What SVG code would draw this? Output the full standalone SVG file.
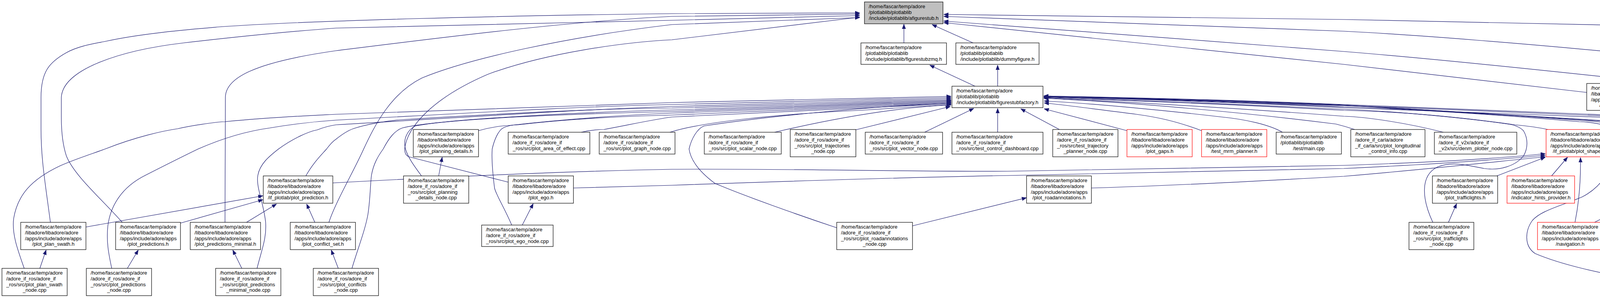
<svg xmlns="http://www.w3.org/2000/svg" width="5158" height="764" viewBox="0 0 5158 764">
<style>
.n rect{fill:#fff;stroke:#000;stroke-width:1.2}
.n.root rect{fill:#bfbfbf}
.n.red rect{stroke:#ff0000}
.n text{font-family:"Liberation Sans",Arial,sans-serif;font-size:13px;fill:#000}
.n text.c{text-anchor:middle}
.e path{fill:none;stroke:#191970;stroke-width:1.2;marker-end:url(#a)}
</style>
<defs>
<marker id="a" markerUnits="userSpaceOnUse" markerWidth="12" markerHeight="10" viewBox="0 0 12 10" refX="12" refY="5" orient="auto">
<path d="M0,0.5 L12,5 L0,9.5 z" fill="#191970" stroke="#191970" stroke-width="0.8"/>
</marker>
</defs>
<rect width="5158" height="764" fill="#fff"/>
<g id="edges" class="e">
<path d="M2314,110 L2314,62"/>
<path d="M2491,110 L2386,63"/>
<path d="M129,570 C116,470 105,410 105,330 L105,250 C105,185 125,160 170,135 C200,118 240,112 270,106 C360,86 480,76 560,69 C800,52 1300,40 1720,35 L2201,33"/>
<path d="M313,570 C260,510 190,450 170,400 C160,370 157,330 157,300 L157,250 C160,180 300,130 470,110 C600,95 750,80 860,72 C1200,62 1500,56 1720,52 L2201,40"/>
<path d="M576,570 L577,250 C577,200 650,160 860,130 C1100,100 1450,55 1720,42 L2201,36"/>
<path d="M842,570 C858,520 905,440 931,382 C960,320 1000,240 1080,200 C1200,150 1450,95 1720,63 L2201,45"/>
<path d="M1301,467 L1047,402 C1036,398 1034,385 1038,370 C1050,320 1110,250 1250,190 C1400,135 1600,108 1720,102 L2201,44"/>
<path d="M5032,451 C5040,420 5046,400 5046,382 C5048,300 5046,200 5030,160 C5015,130 5000,112 4985,107 C4900,90 4600,75 4300,68 C4000,60 3700,55 3440,50 L2416,37"/>
<path d="M4838,570 C4880,490 4950,430 4952,370 C4955,300 4900,260 4821,240 C4750,220 4650,200 4300,150 C3900,110 3600,88 3440,80 L2416,42"/>
<path d="M4503,238 C4400,226 4350,222 4300,218 C4000,185 3700,153 3440,132 C3100,105 2700,76 2416,54"/>
<path d="M4062,237 C3800,206 3600,183 3440,165 L2416,58"/>
<path d="M2496,221 L2380,167"/>
<path d="M2554,221 L2554,167"/>
<path d="M62,688 C45,640 30,600 35,560 C45,500 80,460 154,425 C200,405 240,393 269,382 C350,350 420,335 455,330 C500,320 560,312 576,312 C700,300 800,296 860,293 C1200,280 1500,268 1720,263 L2435,247"/>
<path d="M286,688 C278,650 272,620 276,580 C282,530 310,480 373,449 C420,425 470,400 507,382 C580,350 640,335 691,328 C750,318 800,312 860,308 C1200,290 1500,272 1720,268 L2435,250"/>
<path d="M658,688 C670,640 683,610 680,570 C675,520 655,480 660,450 C665,420 690,400 713,382 C750,355 790,337 812,333 C830,326 845,322 860,320 C1200,300 1500,280 1720,273 L2435,253"/>
<path d="M783,451 C800,420 820,400 836,382 C845,370 852,362 860,357 C875,345 890,335 904,330 C940,318 990,310 1025,307 C1300,290 1550,278 1720,277 L2435,256"/>
<path d="M901,688 C915,640 935,590 942,549 C948,510 948,470 951,449 C956,420 968,400 981,382 C995,355 1010,335 1030,328 C1100,310 1400,290 1720,282 L2435,258"/>
<path d="M1079,451 C1060,425 1045,405 1038,382 C1032,360 1040,335 1063,323 C1150,305 1450,292 1720,286 L2435,260"/>
<path d="M1225,335 C1260,325 1290,322 1300,322 C1450,305 1600,295 1720,290 L2435,262"/>
<path d="M1310,577 C1290,530 1270,500 1266,482 C1262,450 1258,410 1260,382 C1265,360 1275,335 1288,328 C1300,322 1315,320 1326,320 C1450,305 1600,298 1720,295 L2435,264"/>
<path d="M1488,339 C1510,334 1530,332 1546,332 C1620,318 1680,305 1720,300 L2435,266"/>
<path d="M1715,339 C1800,312 2000,292 2200,283 L2435,268"/>
<path d="M2142,584 C2040,550 1900,500 1830,470 C1790,440 1768,410 1764,382 C1770,355 1785,330 1802,323 C1950,300 2200,275 2435,264"/>
<path d="M1983,339 C2150,300 2300,275 2435,269"/>
<path d="M2367,339 L2493,278"/>
<path d="M2190,333 L2433,273"/>
<path d="M2554,339 L2554,278"/>
<path d="M2712,332 L2613,279"/>
<path d="M2885,335 L2673,279"/>
<path d="M3076,335 C3010,310 2960,300 2909,293 C2820,282 2720,268 2673,264"/>
<path d="M3283,339 C3250,320 3190,306 3128,300 C3000,285 2800,265 2673,259"/>
<path d="M3468,332 C3450,326 3440,323 3420,318 C3200,290 2900,262 2672,252"/>
<path d="M3695,339 C3600,315 3500,300 3440,298 C3200,280 2900,262 2672,251"/>
<path d="M3963,332 C3930,325 3900,322 3879,320 C3700,295 3550,285 3440,283 C3200,270 2900,258 2672,250"/>
<path d="M3668,570 C3640,510 3635,450 3680,428 C3720,412 3760,425 3800,432 C3840,438 3880,425 3900,400 C3912,380 3912,355 3900,335 C3890,325 3875,320 3860,318 C3700,295 3500,282 3440,280 C3200,268 2900,256 2672,249"/>
<path d="M4162,712 C4100,700 4000,680 3930,650 C3900,630 3905,590 3923,565 C3945,540 3990,530 4050,505 C4100,480 4130,430 4142,382 C4148,360 4148,345 4130,330 C4110,318 4070,313 4043,312 C3800,290 3500,275 3440,274 C3200,262 2900,254 2672,248"/>
<path d="M4238,451 C4235,420 4225,400 4219,382 C4210,360 4195,338 4178,330 C4150,318 4100,312 4050,309 C3800,290 3500,272 3440,271 C3200,262 2900,253 2672,247"/>
<path d="M4925,577 L4300,409 C4285,400 4272,392 4268,382 C4260,360 4245,335 4230,330 C4200,318 4150,312 4100,310 C3800,290 3500,272 3440,270 C3200,260 2900,252 2672,247"/>
<path d="M4303,352 C4295,343 4285,333 4270,328 C4220,316 4150,311 4100,309 C3800,290 3500,271 3440,269 C3200,259 2900,251 2672,246"/>
<path d="M5051,696 C5120,630 5160,580 5155,520 C5150,470 5120,420 5068,409 C4950,395 4750,425 4684,422 C4600,420 4540,410 4530,400 C4520,392 4516,388 4514,382 C4505,355 4490,335 4475,330 C4420,310 4350,304 4300,302 C3900,285 3500,270 3440,268 C3200,258 2900,250 2672,246"/>
<path d="M4546,336 C4500,320 4400,308 4300,305 C3900,290 3500,272 3440,270 C3200,260 2900,252 2672,247"/>
<path d="M4777,339 C4770,335 4760,332 4750,330 C4600,315 4450,310 4300,308 C3900,292 3500,277 3440,276 C3200,264 2900,254 2672,248"/>
<path d="M4546,337 L4231,265"/>
<path d="M4777,339 L4666,286"/>
<path d="M852,469 C1200,450 1500,438 1720,434 C2000,432 2300,440 2580,439 C2900,436 3200,430 3440,424 C3700,415 3850,405 3956,394"/>
<path d="M1468,482 C1600,478 1680,476 1720,475 C2000,465 2300,455 2580,450 C2900,445 3200,438 3440,432 C3700,420 3850,408 3956,398"/>
<path d="M2794,482 C3000,476 3300,460 3440,452 C3700,430 3850,412 3956,402"/>
<path d="M2336,579 L2628,507"/>
<path d="M3832,451 L3956,403"/>
<path d="M3972,451 L4013,403"/>
<path d="M4032,570 C4042,520 4047,470 4046,404"/>
<path d="M4183,451 L4104,403"/>
<path d="M4717,569 C4600,565 4500,560 4464,555 C4420,545 4400,530 4393,515 C4380,490 4370,470 4355,455 C4340,440 4320,432 4300,429 C4260,420 4230,405 4208,395 C4180,385 4150,380 4128,378"/>
<path d="M3708,570 L3729,522"/>
<path d="M4082,570 L4176,522"/>
<path d="M4219,570 L4230,522"/>
<path d="M4355,570 L4294,524"/>
<path d="M4508,572 L4328,519"/>
<path d="M4718,571 C4650,550 4550,540 4465,539 C4400,535 4360,525 4330,518"/>
<path d="M4934,696 L4854,642"/>
<path d="M4336,692 L4497,641"/>
<path d="M4937,475 L4476,399"/>
<path d="M4741,570 L4454,405"/>
<path d="M5013,577 L5016,523"/>
<path d="M220,582 L673,502"/>
<path d="M462,572 L673,512"/>
<path d="M631,570 L708,523"/>
<path d="M806,570 L785,523"/>
<path d="M866,688 L848,641"/>
<path d="M102,688 L118,641"/>
<path d="M326,688 L354,641"/>
<path d="M619,688 L596,641"/>
<path d="M1123,451 L1132,403"/>
<path d="M1337,577 L1365,522"/>
</g>
<g id="n0" class="n root"><rect x="2213" y="5" width="201" height="56"/><text x="2224" y="21.3">/home/fascar/temp/adore</text><text x="2224" y="36">/plotlablib/plotlablib</text><text class="c" x="2313.5" y="50.7">/include/plotlablib/afigurestub.h</text></g>
<g id="n1" class="n"><rect x="2204" y="110" width="219" height="55"/><text x="2215" y="126.3">/home/fascar/temp/adore</text><text x="2215" y="141">/plotlablib/plotlablib</text><text class="c" x="2313.5" y="155.7">/include/plotlablib/figurestubzmq.h</text></g>
<g id="n2" class="n"><rect x="2447" y="110" width="213" height="55"/><text x="2458" y="126.3">/home/fascar/temp/adore</text><text x="2458" y="141">/plotlablib/plotlablib</text><text class="c" x="2553.5" y="155.7">/include/plotlablib/dummyfigure.h</text></g>
<g id="n3" class="n"><rect x="2437" y="221" width="233" height="55"/><text x="2448" y="237.3">/home/fascar/temp/adore</text><text x="2448" y="252">/plotlablib/plotlablib</text><text class="c" x="2553.5" y="266.7">/include/plotlablib/figurestubfactory.h</text></g>
<g id="n4" class="n"><rect x="1058" y="332" width="167" height="70"/><text x="1069" y="348.3">/home/fascar/temp/adore</text><text x="1069" y="363">/libadore/libadore/adore</text><text x="1069" y="377.7">/apps/include/adore/apps</text><text class="c" x="1141.5" y="392.4">/plot_planning_details.h</text></g>
<g id="n5" class="n"><rect x="1301" y="339" width="209" height="56"/><text x="1312" y="355.3">/home/fascar/temp/adore</text><text x="1312" y="370">/adore_if_ros/adore_if</text><text class="c" x="1405.5" y="384.7">_ros/src/plot_area_of_effect.cpp</text></g>
<g id="n6" class="n"><rect x="1534" y="339" width="194" height="56"/><text x="1545" y="355.3">/home/fascar/temp/adore</text><text x="1545" y="370">/adore_if_ros/adore_if</text><text class="c" x="1631" y="384.7">_ros/src/plot_graph_node.cpp</text></g>
<g id="n7" class="n"><rect x="1803" y="339" width="197" height="56"/><text x="1814" y="355.3">/home/fascar/temp/adore</text><text x="1814" y="370">/adore_if_ros/adore_if</text><text class="c" x="1901.5" y="384.7">_ros/src/plot_scalar_node.cpp</text></g>
<g id="n8" class="n"><rect x="2023" y="332" width="168" height="70"/><text x="2034" y="348.3">/home/fascar/temp/adore</text><text x="2034" y="363">/adore_if_ros/adore_if</text><text x="2034" y="377.7">_ros/src/plot_trajectories</text><text class="c" x="2107" y="392.4">_node.cpp</text></g>
<g id="n9" class="n"><rect x="2215" y="339" width="198" height="56"/><text x="2226" y="355.3">/home/fascar/temp/adore</text><text x="2226" y="370">/adore_if_ros/adore_if</text><text class="c" x="2314" y="384.7">_ros/src/plot_vector_node.cpp</text></g>
<g id="n10" class="n"><rect x="2437" y="339" width="233" height="56"/><text x="2448" y="355.3">/home/fascar/temp/adore</text><text x="2448" y="370">/adore_if_ros/adore_if</text><text class="c" x="2553.5" y="384.7">_ros/src/test_control_dashboard.cpp</text></g>
<g id="n11" class="n"><rect x="2695" y="332" width="167" height="70"/><text x="2706" y="348.3">/home/fascar/temp/adore</text><text x="2706" y="363">/adore_if_ros/adore_if</text><text x="2706" y="377.7">_ros/src/test_trajectory</text><text class="c" x="2778.5" y="392.4">_planner_node.cpp</text></g>
<g id="n12" class="n red"><rect x="2885" y="332" width="167" height="70"/><text x="2896" y="348.3">/home/fascar/temp/adore</text><text x="2896" y="363">/libadore/libadore/adore</text><text x="2896" y="377.7">/apps/include/adore/apps</text><text class="c" x="2968.5" y="392.4">/plot_gaps.h</text></g>
<g id="n13" class="n red"><rect x="3076" y="332" width="167" height="70"/><text x="3087" y="348.3">/home/fascar/temp/adore</text><text x="3087" y="363">/libadore/libadore/adore</text><text x="3087" y="377.7">/apps/include/adore/apps</text><text class="c" x="3159.5" y="392.4">/test_mrm_planner.h</text></g>
<g id="n14" class="n"><rect x="3267" y="339" width="167" height="56"/><text x="3278" y="355.3">/home/fascar/temp/adore</text><text x="3278" y="370">/plotlablib/plotlablib</text><text class="c" x="3350.5" y="384.7">/test/main.cpp</text></g>
<g id="n15" class="n"><rect x="3458" y="332" width="190" height="70"/><text x="3469" y="348.3">/home/fascar/temp/adore</text><text x="3469" y="363">/adore_if_carla/adore</text><text x="3469" y="377.7">_if_carla/src/plot_longitudinal</text><text class="c" x="3553" y="392.4">_control_info.cpp</text></g>
<g id="n16" class="n"><rect x="3672" y="339" width="211" height="56"/><text x="3683" y="355.3">/home/fascar/temp/adore</text><text x="3683" y="370">/adore_if_v2x/adore_if</text><text class="c" x="3777.5" y="384.7">_v2x/src/denm_plotter_node.cpp</text></g>
<g id="n17" class="n red"><rect x="3958" y="332" width="168" height="70"/><text x="3969" y="348.3">/home/fascar/temp/adore</text><text x="3969" y="363">/libadore/libadore/adore</text><text x="3969" y="377.7">/apps/include/adore/apps</text><text class="c" x="4042" y="392.4">/if_plotlab/plot_shape.h</text></g>
<g id="n18" class="n"><rect x="4062" y="214" width="167" height="69"/><text x="4073" y="230.3">/home/fascar/temp/adore</text><text x="4073" y="245">/libadore/libadore/adore</text><text x="4073" y="259.7">/apps/include/adore/apps</text><text class="c" x="4145.5" y="274.4">/plot_satimages.h</text></g>
<g id="n19" class="n"><rect x="4503" y="214" width="167" height="69"/><text x="4514" y="230.3">/home/fascar/temp/adore</text><text x="4514" y="245">/libadore/libadore/adore</text><text x="4514" y="259.7">/apps/include/adore/apps</text><text class="c" x="4586.5" y="274.4">/plot_traffic.h</text></g>
<g id="n20" class="n"><rect x="4303" y="332" width="167" height="70"/><text x="4314" y="348.3">/home/fascar/temp/adore</text><text x="4314" y="363">/libadore/libadore/adore</text><text x="4314" y="377.7">/apps/include/adore/apps</text><text class="c" x="4386.5" y="392.4">/if_plotlab/plot_views.h</text></g>
<g id="n21" class="n"><rect x="4546" y="332" width="167" height="70"/><text x="4557" y="348.3">/home/fascar/temp/adore</text><text x="4557" y="363">/adore_if_ros/adore_if</text><text x="4557" y="377.7">_ros/src/plot_satimages</text><text class="c" x="4629.5" y="392.4">_node.cpp</text></g>
<g id="n22" class="n"><rect x="4738" y="339" width="195" height="56"/><text x="4749" y="355.3">/home/fascar/temp/adore</text><text x="4749" y="370">/adore_if_ros/adore_if</text><text class="c" x="4835.5" y="384.7">_ros/src/plot_traffic_node.cpp</text></g>
<g id="n23" class="n"><rect x="674" y="451" width="178" height="70"/><text x="685" y="467.3">/home/fascar/temp/adore</text><text x="685" y="482">/libadore/libadore/adore</text><text x="685" y="496.7">/apps/include/adore/apps</text><text class="c" x="763" y="511.4">/if_plotlab/plot_prediction.h</text></g>
<g id="n24" class="n"><rect x="1033" y="451" width="167" height="70"/><text x="1044" y="467.3">/home/fascar/temp/adore</text><text x="1044" y="482">/adore_if_ros/adore_if</text><text x="1044" y="496.7">_ros/src/plot_planning</text><text class="c" x="1116.5" y="511.4">_details_node.cpp</text></g>
<g id="n25" class="n"><rect x="1301" y="451" width="167" height="70"/><text x="1312" y="467.3">/home/fascar/temp/adore</text><text x="1312" y="482">/libadore/libadore/adore</text><text x="1312" y="496.7">/apps/include/adore/apps</text><text class="c" x="1384.5" y="511.4">/plot_ego.h</text></g>
<g id="n26" class="n"><rect x="2628" y="451" width="166" height="70"/><text x="2639" y="467.3">/home/fascar/temp/adore</text><text x="2639" y="482">/libadore/libadore/adore</text><text x="2639" y="496.7">/apps/include/adore/apps</text><text class="c" x="2711" y="511.4">/plot_roadannotations.h</text></g>
<g id="n27" class="n"><rect x="3667" y="451" width="167" height="70"/><text x="3678" y="467.3">/home/fascar/temp/adore</text><text x="3678" y="482">/libadore/libadore/adore</text><text x="3678" y="496.7">/apps/include/adore/apps</text><text class="c" x="3750.5" y="511.4">/plot_trafficlights.h</text></g>
<g id="n28" class="n red"><rect x="3858" y="451" width="173" height="70"/><text x="3869" y="467.3">/home/fascar/temp/adore</text><text x="3869" y="482">/libadore/libadore/adore</text><text x="3869" y="496.7">/apps/include/adore/apps</text><text class="c" x="3944.5" y="511.4">/indicator_hints_provider.h</text></g>
<g id="n29" class="n"><rect x="4157" y="451" width="167" height="70"/><text x="4168" y="467.3">/home/fascar/temp/adore</text><text x="4168" y="482">/libadore/libadore/adore</text><text x="4168" y="496.7">/apps/include/adore/apps</text><text class="c" x="4240.5" y="511.4">/if_plotlab/plot_border.h</text></g>
<g id="n30" class="n"><rect x="4937" y="451" width="167" height="70"/><text x="4948" y="467.3">/home/fascar/temp/adore</text><text x="4948" y="482">/libadore/libadore/adore</text><text x="4948" y="496.7">/apps/include/adore/apps</text><text class="c" x="5020.5" y="511.4">/plot_views.h</text></g>
<g id="n31" class="n"><rect x="53" y="570" width="167" height="70"/><text x="64" y="586.3">/home/fascar/temp/adore</text><text x="64" y="601">/libadore/libadore/adore</text><text x="64" y="615.7">/apps/include/adore/apps</text><text class="c" x="136.5" y="630.4">/plot_plan_swath.h</text></g>
<g id="n32" class="n"><rect x="296" y="570" width="166" height="70"/><text x="307" y="586.3">/home/fascar/temp/adore</text><text x="307" y="601">/libadore/libadore/adore</text><text x="307" y="615.7">/apps/include/adore/apps</text><text class="c" x="379" y="630.4">/plot_predictions.h</text></g>
<g id="n33" class="n"><rect x="487" y="570" width="180" height="70"/><text x="498" y="586.3">/home/fascar/temp/adore</text><text x="498" y="601">/libadore/libadore/adore</text><text x="498" y="615.7">/apps/include/adore/apps</text><text class="c" x="577" y="630.4">/plot_predictions_minimal.h</text></g>
<g id="n34" class="n"><rect x="743" y="570" width="167" height="70"/><text x="754" y="586.3">/home/fascar/temp/adore</text><text x="754" y="601">/libadore/libadore/adore</text><text x="754" y="615.7">/apps/include/adore/apps</text><text class="c" x="826.5" y="630.4">/plot_conflict_set.h</text></g>
<g id="n35" class="n"><rect x="1233" y="577" width="183" height="55"/><text x="1244" y="593.3">/home/fascar/temp/adore</text><text x="1244" y="608">/adore_if_ros/adore_if</text><text class="c" x="1324.5" y="622.7">_ros/src/plot_ego_node.cpp</text></g>
<g id="n36" class="n"><rect x="2142" y="570" width="194" height="70"/><text x="2153" y="586.3">/home/fascar/temp/adore</text><text x="2153" y="601">/adore_if_ros/adore_if</text><text x="2153" y="615.7">_ros/src/plot_roadannotations</text><text class="c" x="2239" y="630.4">_node.cpp</text></g>
<g id="n37" class="n"><rect x="3607" y="570" width="166" height="70"/><text x="3618" y="586.3">/home/fascar/temp/adore</text><text x="3618" y="601">/adore_if_ros/adore_if</text><text x="3618" y="615.7">_ros/src/plot_trafficlights</text><text class="c" x="3690" y="630.4">_node.cpp</text></g>
<g id="n38" class="n red"><rect x="3936" y="570" width="167" height="70"/><text x="3947" y="586.3">/home/fascar/temp/adore</text><text x="3947" y="601">/libadore/libadore/adore</text><text x="3947" y="615.7">/apps/include/adore/apps</text><text class="c" x="4019.5" y="630.4">/navigation.h</text></g>
<g id="n39" class="n red"><rect x="4127" y="570" width="167" height="70"/><text x="4138" y="586.3">/home/fascar/temp/adore</text><text x="4138" y="601">/libadore/libadore/adore</text><text x="4138" y="615.7">/apps/include/adore/apps</text><text class="c" x="4210.5" y="630.4">/plainxmlexporter.h</text></g>
<g id="n40" class="n red"><rect x="4317" y="570" width="167" height="70"/><text x="4328" y="586.3">/home/fascar/temp/adore</text><text x="4328" y="601">/libadore/libadore/adore</text><text x="4328" y="615.7">/apps/include/adore/apps</text><text class="c" x="4400.5" y="630.4">/map_provider.h</text></g>
<g id="n41" class="n"><rect x="4508" y="570" width="186" height="70"/><text x="4519" y="586.3">/home/fascar/temp/adore</text><text x="4519" y="601">/libadore/libadore/adore</text><text x="4519" y="615.7">/apps/include/adore/apps</text><text class="c" x="4601" y="630.4">/test_lc_trajectory_planner.h</text></g>
<g id="n42" class="n"><rect x="4718" y="570" width="167" height="70"/><text x="4729" y="586.3">/home/fascar/temp/adore</text><text x="4729" y="601">/libadore/libadore/adore</text><text x="4729" y="615.7">/apps/include/adore/apps</text><text class="c" x="4801.5" y="630.4">/plot_lanes.h</text></g>
<g id="n43" class="n"><rect x="4910" y="577" width="195" height="55"/><text x="4921" y="593.3">/home/fascar/temp/adore</text><text x="4921" y="608">/adore_if_ros/adore_if</text><text class="c" x="5007.5" y="622.7">_ros/src/plot_views_node.cpp</text></g>
<g id="n44" class="n"><rect x="5" y="688" width="167" height="70"/><text x="16" y="704.3">/home/fascar/temp/adore</text><text x="16" y="719">/adore_if_ros/adore_if</text><text x="16" y="733.7">_ros/src/plot_plan_swath</text><text class="c" x="88.5" y="748.4">_node.cpp</text></g>
<g id="n45" class="n"><rect x="221" y="688" width="167" height="70"/><text x="232" y="704.3">/home/fascar/temp/adore</text><text x="232" y="719">/adore_if_ros/adore_if</text><text x="232" y="733.7">_ros/src/plot_predictions</text><text class="c" x="304.5" y="748.4">_node.cpp</text></g>
<g id="n46" class="n"><rect x="552" y="688" width="167" height="70"/><text x="563" y="704.3">/home/fascar/temp/adore</text><text x="563" y="719">/adore_if_ros/adore_if</text><text x="563" y="733.7">_ros/src/plot_predictions</text><text class="c" x="635.5" y="748.4">_minimal_node.cpp</text></g>
<g id="n47" class="n"><rect x="802" y="688" width="167" height="70"/><text x="813" y="704.3">/home/fascar/temp/adore</text><text x="813" y="719">/adore_if_ros/adore_if</text><text x="813" y="733.7">_ros/src/plot_conflicts</text><text class="c" x="885.5" y="748.4">_node.cpp</text></g>
<g id="n48" class="n"><rect x="4162" y="688" width="173" height="70"/><text x="4173" y="704.3">/home/fascar/temp/adore</text><text x="4173" y="719">/adore_if_ros/adore_if</text><text x="4173" y="733.7">_ros/src/test_lc_trajectory</text><text class="c" x="4248.5" y="748.4">_planner_node.cpp</text></g>
<g id="n49" class="n"><rect x="4875" y="696" width="192" height="55"/><text x="4886" y="712.3">/home/fascar/temp/adore</text><text x="4886" y="727">/adore_if_ros/adore_if</text><text class="c" x="4971" y="741.7">_ros/src/plot_lanes_node.cpp</text></g>
</svg>
